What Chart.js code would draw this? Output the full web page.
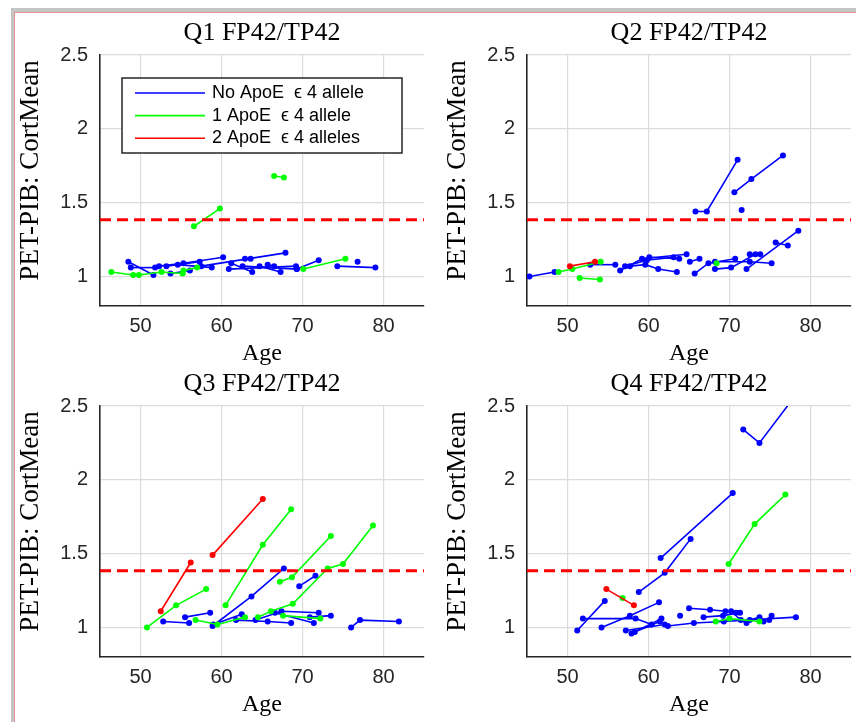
<!DOCTYPE html>
<html>
<head>
<meta charset="utf-8">
<script src="https://cdn.jsdelivr.net/npm/chart.js@4.4.0/dist/chart.umd.min.js"></script>
<style>
html, body { margin: 0; padding: 0; background: #fff; }
body { width: 856px; height: 722px; position: relative; overflow: hidden; }
#frame { position: absolute; left: 11px; top: 8px; width: 900px; height: 800px; border-top: 4px solid #c4c4c4; border-left: 3px solid #c4c4c4; }
#frame2 { position: absolute; left: 14px; top: 12px; width: 900px; height: 800px; border-top: 1px solid #e88f8f; border-left: 1px solid #e88f8f; }
canvas { position: absolute; }
</style>
</head>
<body>
<div id="frame"></div>
<div id="frame2"></div>
<canvas id="q1" width="428" height="372" style="left:0;top:0"></canvas>
<canvas id="q2" width="428" height="372" style="left:427px;top:0"></canvas>
<canvas id="q3" width="428" height="372" style="left:0;top:351px"></canvas>
<canvas id="q4" width="428" height="372" style="left:427px;top:351px"></canvas>
<script>
// tick labels and the amyloid cutoff
const ageTicks = [50, 60, 70, 80];
const pibTicks = [1, 1.5, 2, 2.5];
const cutoff = 1.385;
const groupNames = ['No ApoE  \u03f5 4 allele', '1 ApoE  \u03f5 4 allele', '2 ApoE  \u03f5 4 alleles'];
const panelTitles = ['Q1 FP42/TP42', 'Q2 FP42/TP42', 'Q3 FP42/TP42', 'Q4 FP42/TP42'];

// each subject = list of [age, PIB] visits
const q1Blue = [
  [[48.5,1.10],[51.6,1.01]],
  [[48.8,1.06],[51.8,1.06]],
  [[52.3,1.07],[55.3,1.09],[60.2,1.13]],
  [[53.2,1.07],[57.3,1.10]],
  [[53.7,1.02],[56.1,1.04]],
  [[54.6,1.08],[58.8,1.06]],
  [[57.5,1.07],[67.9,1.16]],
  [[60.9,1.05],[69.2,1.07]],
  [[61.2,1.09],[63.8,1.03]],
  [[62.6,1.07],[69.3,1.05]],
  [[62.9,1.12],[63.6,1.12]],
  [[64.7,1.07],[67.3,1.03]],
  [[65.7,1.08],[66.5,1.07]],
  [[69.3,1.05],[72.0,1.11]],
  [[74.3,1.07],[79.0,1.06]],
  [[76.8,1.10]]
];
const q1Green = [
  [[46.4,1.03],[49.1,1.01]],
  [[49.8,1.01],[52.6,1.03],[55.2,1.02]],
  [[55.3,1.04],[57.0,1.06]],
  [[70.1,1.05],[75.3,1.12]],
  [[56.6,1.34],[59.8,1.46]],
  [[66.5,1.68],[67.7,1.67]]
];
const q1Red = [];

const q2Blue = [
  [[45.3,1.00],[48.4,1.03]],
  [[52.8,1.08],[55.9,1.08]],
  [[56.5,1.04],[59.2,1.12],[64.7,1.15]],
  [[57.1,1.07],[59.8,1.11],[63.1,1.13]],
  [[57.7,1.07],[59.6,1.08],[61.2,1.05],[63.5,1.03]],
  [[60.1,1.13],[63.8,1.12]],
  [[65.1,1.10],[66.3,1.12]],
  [[65.7,1.02],[67.4,1.09],[70.7,1.12]],
  [[68.2,1.05],[70.2,1.06],[73.2,1.15]],
  [[68.2,1.10],[72.5,1.10],[75.2,1.09]],
  [[72.1,1.05],[78.5,1.31]],
  [[72.5,1.15],[73.8,1.15]],
  [[75.7,1.23],[77.2,1.21]],
  [[65.8,1.44],[67.2,1.44],[71.0,1.79]],
  [[70.6,1.57],[72.7,1.66],[76.6,1.82]],
  [[71.5,1.45]]
];
const q2Green = [
  [[48.9,1.03],[50.6,1.05],[54.1,1.10]],
  [[51.5,0.99],[54.0,0.98]],
  [[68.4,1.09]]
];
const q2Red = [
  [[50.3,1.07],[53.4,1.10]]
];

const q3Blue = [
  [[52.8,1.04],[56.0,1.03]],
  [[55.5,1.07],[58.6,1.10]],
  [[58.9,1.01],[63.7,1.21],[67.7,1.40]],
  [[59.0,1.02],[62.5,1.09]],
  [[61.8,1.05],[65.7,1.04],[68.6,1.03]],
  [[64.2,1.05],[67.4,1.11],[72.0,1.10]],
  [[66.6,1.10],[71.4,1.03]],
  [[70.9,1.07],[73.5,1.08]],
  [[69.6,1.28],[71.6,1.35]],
  [[76.0,1.00],[77.1,1.05],[81.9,1.04]]
];
const q3Green = [
  [[50.8,1.00],[54.4,1.15],[58.1,1.26]],
  [[56.8,1.05],[59.5,1.02],[62.9,1.07]],
  [[60.5,1.15],[65.1,1.56],[68.6,1.80]],
  [[64.5,1.07],[66.1,1.11],[68.8,1.16],[73.1,1.40],[75.0,1.43],[78.7,1.69]],
  [[67.2,1.31],[68.7,1.34],[73.5,1.62]],
  [[67.6,1.08],[72.2,1.06]]
];
const q3Red = [
  [[52.5,1.11],[56.2,1.44]],
  [[58.9,1.49],[65.1,1.87]]
];

const q4Blue = [
  [[71.7,2.34],[73.7,2.25],[78.4,2.59]],
  [[61.5,1.47],[70.4,1.91]],
  [[58.8,1.24],[62.0,1.37],[65.2,1.60]],
  [[51.2,0.98],[54.6,1.18]],
  [[51.9,1.06],[58.4,1.06],[60.4,1.02]],
  [[54.2,1.00],[57.7,1.08],[61.3,1.17]],
  [[57.2,0.98],[62.0,1.02]],
  [[57.9,0.96],[61.6,1.06]],
  [[58.3,0.97],[61.4,1.04]],
  [[63.9,1.08]],
  [[65.0,1.13],[67.6,1.12],[69.5,1.11],[70.8,1.10]],
  [[62.4,1.01],[65.6,1.03],[69.3,1.04],[78.2,1.07]],
  [[66.8,1.07],[69.2,1.08],[71.3,1.10]],
  [[70.2,1.11],[71.4,1.05],[72.1,1.03]],
  [[72.5,1.05],[73.7,1.07],[74.2,1.04]],
  [[74.9,1.05],[75.2,1.08]]
];
const q4Green = [
  [[69.9,1.43],[73.1,1.70],[76.9,1.90]],
  [[68.3,1.04],[70.0,1.06],[73.7,1.04]],
  [[56.8,1.20]]
];
const q4Red = [
  [[54.8,1.26],[58.2,1.15]]
];

const groupColors = ['#0000ff', '#00ff00', '#ff0000'];
const serif = '"Liberation Serif", "DejaVu Serif", serif';
const sans = '"Liberation Sans", Arial, sans-serif';

// titles and axis labels, placed relative to the plot box
const decor = {
  id: 'decor',
  afterDraw(chart, args, opts) {
    const ctx = chart.ctx, a = chart.chartArea;
    const cx = (a.left + a.right) / 2;
    ctx.save();
    ctx.fillStyle = '#000';
    ctx.textAlign = 'center';
    ctx.textBaseline = 'middle';
    ctx.font = '26px ' + serif;
    ctx.fillText(opts.title, cx, a.top - 22);
    ctx.font = '24px ' + serif;
    ctx.fillText('Age', cx, a.bottom + 48);
    ctx.font = '27px ' + serif;
    ctx.translate(a.left - 69, (a.top + a.bottom) / 2 - 10);
    ctx.rotate(-Math.PI / 2);
    ctx.fillText('PET-PIB: CortMean', 0, 0);
    ctx.restore();
  }
};

// boxed legend inside the first panel
const legendBox = {
  id: 'legendBox',
  afterDraw(chart, args, opts) {
    if (!opts.show) return;
    const ctx = chart.ctx, a = chart.chartArea;
    const x0 = a.left + 22, y0 = a.top + 23, w = 280, h = 75;
    ctx.save();
    ctx.fillStyle = '#fff';
    ctx.fillRect(x0, y0, w, h);
    ctx.strokeStyle = '#262626';
    ctx.lineWidth = 1.5;
    ctx.strokeRect(x0, y0, w, h);
    ctx.font = '18px ' + sans;
    ctx.textBaseline = 'middle';
    ctx.textAlign = 'left';
    groupNames.forEach((name, i) => {
      const y = y0 + 15 + i * 22.6;
      ctx.strokeStyle = groupColors[i];
      ctx.lineWidth = 1.6;
      ctx.beginPath();
      ctx.moveTo(x0 + 13, y);
      ctx.lineTo(x0 + 83, y);
      ctx.stroke();
      ctx.fillStyle = '#000';
      ctx.fillText(name, x0 + 90, y);
    });
    ctx.restore();
  }
};

function subjectSets(subjects, color) {
  return subjects.map(s => ({
    data: s.map(p => ({ x: p[0], y: p[1] })),
    borderColor: color,
    backgroundColor: color,
    borderWidth: 1.6,
    pointRadius: 3,
    pointBorderWidth: 0,
    showLine: true
  }));
}

function makePanel(id, title, blue, green, red, withLegend) {
  const datasets = [{
    data: [{ x: 45, y: cutoff }, { x: 85, y: cutoff }],
    borderColor: '#ff0000',
    borderWidth: 3,
    borderDash: [11, 6],
    pointRadius: 0,
    showLine: true
  }].concat(subjectSets(red, groupColors[2]), subjectSets(green, groupColors[1]), subjectSets(blue, groupColors[0]));

  new Chart(document.getElementById(id), {
    type: 'scatter',
    data: { datasets: datasets },
    options: {
      responsive: false,
      animation: false,
      layout: { padding: { top: 55, right: 3, left: 0, bottom: 0 } },
      plugins: {
        legend: { display: false },
        tooltip: { enabled: false },
        decor: { title: title },
        legendBox: { show: withLegend }
      },
      scales: {
        x: {
          type: 'linear', min: 45, max: 85,
          afterBuildTicks: s => { s.ticks = ageTicks.map(v => ({ value: v })); },
          afterFit: s => { s.height = 66; },
          grid: { color: '#dcdcdc', lineWidth: 1.2, drawTicks: false },
          border: { color: '#262626', width: 1.6 },
          ticks: { padding: 8, color: '#262626', font: { family: sans, size: 20 }, callback: v => String(v), maxRotation: 0 }
        },
        y: {
          type: 'linear', min: 0.8, max: 2.5,
          afterBuildTicks: s => { s.ticks = pibTicks.map(v => ({ value: v })); },
          afterFit: s => { s.width = 100; },
          grid: { color: '#dcdcdc', lineWidth: 1.2, drawTicks: false },
          border: { color: '#262626', width: 1.6 },
          ticks: { padding: 12, color: '#262626', font: { family: sans, size: 20 }, callback: v => String(v) }
        }
      }
    },
    plugins: [decor, legendBox]
  });
}

makePanel('q1', panelTitles[0], q1Blue, q1Green, q1Red, true);
makePanel('q2', panelTitles[1], q2Blue, q2Green, q2Red, false);
makePanel('q3', panelTitles[2], q3Blue, q3Green, q3Red, false);
makePanel('q4', panelTitles[3], q4Blue, q4Green, q4Red, false);
</script>
</body>
</html>
